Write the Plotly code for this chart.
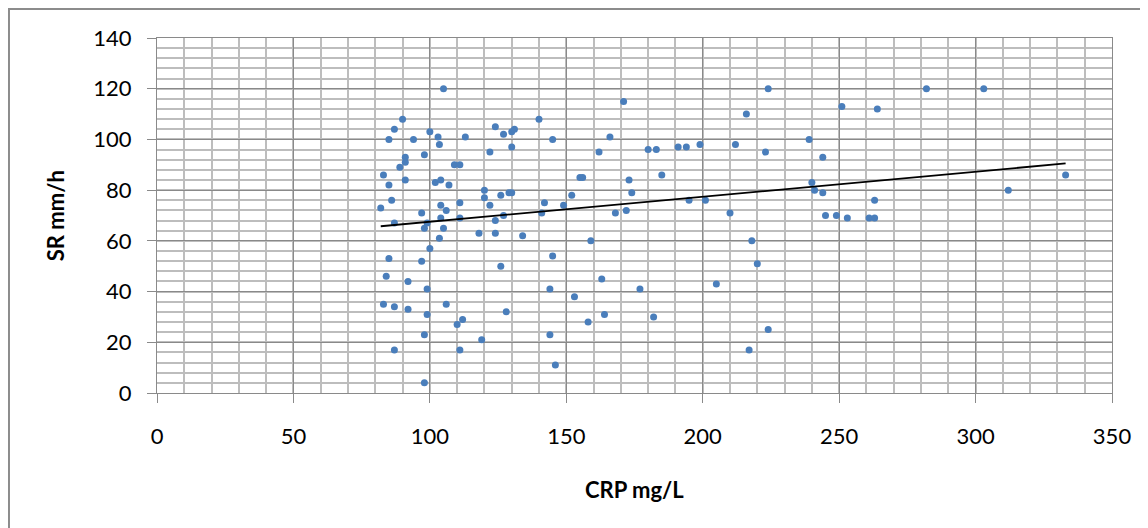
import numpy as np
import plotly.graph_objects as go

# CRP (mg/L) vs SR (mm/h)
crp = [82, 83, 85, 86, 85, 87, 90, 94, 100, 103, 103.5, 98, 91, 91, 89, 91, 102, 97, 87, 98,
       99, 103.5, 100, 85, 97, 84, 92, 99, 83, 87, 92, 99, 98, 87, 98, 105, 113, 109, 111, 104,
       107, 124, 127, 130, 131, 130, 122, 140, 145, 171, 166, 162, 155, 156, 173, 174, 152, 120, 120, 126,
       129, 130, 111, 104, 106, 104, 111, 122, 124, 127, 142, 141, 149, 168, 172, 105, 118, 124, 134, 159,
       145, 126, 163, 144, 177, 106, 153, 128, 164, 158, 110, 112, 144, 119, 111, 146, 224, 216, 239, 180,
       183, 191, 194, 199, 212, 223, 244, 185, 240, 241, 244, 195, 201, 210, 245, 249, 218, 220, 205, 182,
       224, 217, 282, 303, 251, 264, 263, 253, 261, 263, 312, 333]
sr = [73, 86, 82, 76, 100, 104, 108, 100, 103, 101, 98, 94, 93, 91, 89, 84, 83, 71, 67, 65,
      67, 61, 57, 53, 52, 46, 44, 41, 35, 34, 33, 31, 23, 17, 4, 120, 101, 90, 90, 84,
      82, 105, 102, 103, 104, 97, 95, 108, 100, 115, 101, 95, 85, 85, 84, 79, 78, 80, 77, 78,
      79, 79, 75, 74, 72, 69, 69, 74, 68, 70, 75, 71, 74, 71, 72, 65, 63, 63, 62, 60,
      54, 50, 45, 41, 41, 35, 38, 32, 31, 28, 27, 29, 23, 21, 17, 11, 120, 110, 100, 96,
      96, 97, 97, 98, 98, 95, 93, 86, 83, 80, 79, 76, 76, 71, 70, 70, 60, 51, 43, 30,
      25, 17, 120, 120, 113, 112, 76, 69, 69, 69, 80, 86]

x_ticks = [0, 50, 100, 150, 200, 250, 300, 350]
y_ticks = [0, 20, 40, 60, 80, 100, 120, 140]

# linear trendline like Excel
k, b = np.polyfit(crp, sr, 1)
tx = np.array([min(crp), max(crp)])
ty = k * tx + b

fig = go.Figure()
fig.add_trace(go.Scatter(x=crp, y=sr, mode="markers",
                         marker=dict(color="#4A7EBB", size=7), showlegend=False))
fig.add_trace(go.Scatter(x=tx, y=ty, mode="lines",
                         line=dict(color="black", width=1.8), showlegend=False))

major = "#8A8A8A"
minor = "#BDBDBD"
font = "Lato, 'Open Sans', sans-serif"

fig.update_xaxes(range=[0, 350], tickvals=x_ticks, showgrid=True, gridcolor=major, gridwidth=1.3,
                 minor=dict(dtick=10, showgrid=True, gridcolor=minor, gridwidth=2),
                 showline=True, linecolor=major, linewidth=1.3, mirror=True,
                 ticks="outside", ticklen=9, tickcolor=major, zeroline=False,
                 tickfont=dict(size=22, color="black", family=font), ticklabelstandoff=14)
fig.update_yaxes(range=[0, 140], tickvals=y_ticks, showgrid=True, gridcolor=major, gridwidth=1.3,
                 minor=dict(dtick=4, showgrid=True, gridcolor=minor, gridwidth=2),
                 showline=True, linecolor=major, linewidth=1.3, mirror=True,
                 ticks="outside", ticklen=9, tickcolor=major, zeroline=False,
                 tickfont=dict(size=22, color="black", family=font), ticklabelstandoff=11)

# page body has an 8px margin, so margins are shifted to land the plot where the reference has it
fig.update_layout(
    width=1148, height=528,
    margin=dict(l=149, r=44, t=30, b=143),
    plot_bgcolor="white", paper_bgcolor="white",
    font=dict(family=font, color="black"),
    annotations=[
        dict(text="<b>CRP mg/L</b>", x=0.5, y=-0.272, xref="paper", yref="paper",
             showarrow=False, font=dict(size=22), xanchor="center", yanchor="middle"),
        dict(text="<b>SR mm/h</b>", x=-0.106, y=0.5, xref="paper", yref="paper",
             showarrow=False, font=dict(size=22), textangle=-90,
             xanchor="center", yanchor="middle"),
    ],
    shapes=[dict(type="rect", xref="paper", yref="paper",
                 x0=-0.155, x1=1.1, y0=-0.5, y1=1.0817,
                 line=dict(color="#8C8C8C", width=2), layer="below")],
)

fig.write_html("out.html")
